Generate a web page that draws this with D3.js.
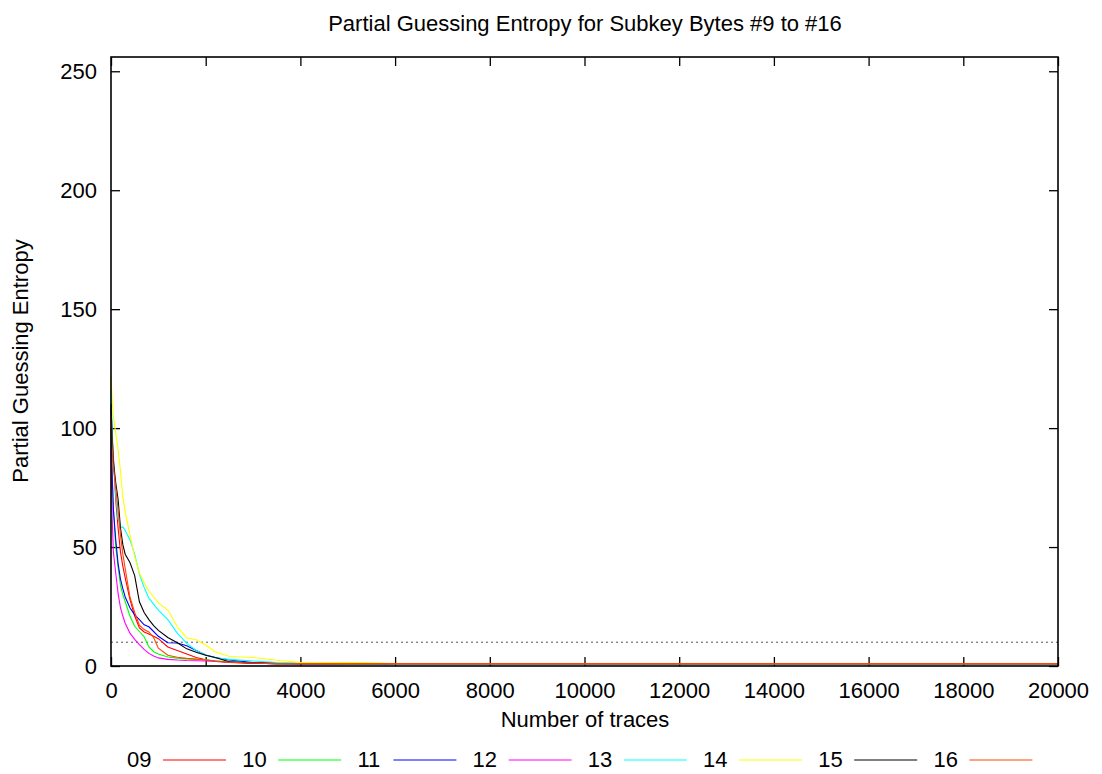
<!DOCTYPE html>
<html>
<head>
<meta charset="utf-8">
<script src="https://cdn.jsdelivr.net/npm/d3@7"></script>
<style>
  body { margin: 0; background: #fff; }
  text { font-family: "Liberation Sans", Arial, Helvetica, sans-serif; fill: #000; }
</style>
</head>
<body>
<svg id="chart" width="1102" height="774"></svg>
<script>
// number of traces (shared x grid)
const traces = [0, 25, 50, 100, 150, 200, 250, 300, 400, 500, 600, 700, 800, 900, 1000,
  1200, 1400, 1600, 1800, 2000, 2200, 2500, 3000, 3500, 4000, 5000, 5500, 6000, 20000];

const byte09 = [108, 96, 88, 70, 58, 48, 42, 37, 28, 21, 16, 14.3, 13.4, 12.5, 11.5, 8, 6.5, 5, 3.6, 2.6, 2, 1.5, 1.2, 1, 1, 1, 1, 1, 1];
const byte10 = [98, 80, 66, 50, 41.5, 34, 30, 27, 21, 16.7, 14.5, 12.3, 8, 6, 5, 3.8, 3.3, 3, 2.8, 2.6, 2.2, 1.8, 1.3, 1.1, 1, 1, 1, 1, 1];
const byte11 = [100, 80, 66, 53, 43, 36.5, 32.5, 29, 24.5, 21.5, 19.5, 17.3, 16.5, 14.5, 12.5, 9.8, 9.7, 8.5, 6.5, 4.6, 3.6, 2.5, 1.5, 1.1, 1, 1, 1, 1, 1];
const byte12 = [92, 62, 48, 39, 30.5, 24.5, 21, 18, 13.8, 11.2, 9, 7, 5.3, 4.2, 3.4, 2.8, 2.5, 2.3, 2.2, 2.1, 1.9, 1.6, 1.2, 1, 1, 1, 1, 1, 1];
const byte13 = [116, 100, 88, 72, 62, 58, 58.5, 57, 53, 47, 38.5, 33, 28.5, 26, 23.5, 19.5, 13.8, 9.5, 6.5, 4.6, 3.5, 2.8, 2.1, 1.5, 1.2, 1, 1, 1, 1];
const byte14 = [122, 112, 105, 98, 91, 82, 71, 65, 55, 46, 39, 35, 31.5, 29, 26.5, 23.5, 16.5, 11.8, 11, 8.8, 6, 4, 3.6, 2.4, 1.6, 1.5, 1.3, 1, 1];
const byte15 = [110, 96, 86, 77, 70, 58, 51, 47, 43.5, 38, 27, 22.5, 19.5, 17, 15, 12, 9.8, 7.2, 5.8, 4.5, 3.6, 1.8, 1.2, 1, 1, 1, 1, 1, 1];
const byte16 = [105, 92, 84, 75, 66, 55, 47, 41, 29, 22.5, 17.2, 15.3, 14.3, 12, 7.5, 4.5, 3.7, 3.2, 2.9, 2.5, 2.1, 1.6, 1.2, 1, 1, 1, 1, 1, 1];

const names = ["09", "10", "11", "12", "13", "14", "15", "16"];
const colors = ["#ff0000", "#00ff00", "#0000ff", "#ff00ff", "#00ffff", "#ffff00", "#000000", "#ff4500"];
const xTicks = [0, 2000, 4000, 6000, 8000, 10000, 12000, 14000, 16000, 18000, 20000];
const yTicks = [0, 50, 100, 150, 200, 250];
const threshold = 10;

const seriesValues = [byte09, byte10, byte11, byte12, byte13, byte14, byte15, byte16];

const svg = d3.select("#chart");
const plotL = 111, plotR = 1058, plotT = 57, plotB = 666;
const fs = "22px";

const x = d3.scaleLinear().domain([0, 20000]).range([plotL, plotR]);
const y = d3.scaleLinear().domain([0, 256]).range([plotB, plotT]);

// title
svg.append("text")
  .attr("x", 585).attr("y", 31)
  .attr("text-anchor", "middle")
  .style("font-size", fs)
  .text("Partial Guessing Entropy for Subkey Bytes #9 to #16");

// ticks (inward, mirrored) + labels
const gx = svg.append("g").attr("transform", "translate(0," + plotB + ")")
  .call(d3.axisBottom(x).tickValues(xTicks).tickFormat(d3.format("d"))
    .tickSizeInner(-9).tickSizeOuter(0).tickPadding(16));
gx.select(".domain").remove();
gx.selectAll("text").style("font-size", fs).attr("font-family", null);
gx.selectAll("line").attr("stroke-width", 1.3);

const gxTop = svg.append("g").attr("transform", "translate(0," + plotT + ")")
  .call(d3.axisTop(x).tickValues(xTicks).tickSizeInner(-9).tickSizeOuter(0).tickFormat(""));
gxTop.select(".domain").remove();
gxTop.selectAll("line").attr("stroke-width", 1.3);

const gy = svg.append("g").attr("transform", "translate(" + plotL + ",0)")
  .call(d3.axisLeft(y).tickValues(yTicks).tickFormat(d3.format("d"))
    .tickSizeInner(-9).tickSizeOuter(0).tickPadding(14));
gy.select(".domain").remove();
gy.selectAll("text").style("font-size", fs).attr("font-family", null);
gy.selectAll("line").attr("stroke-width", 1.3);

const gyRight = svg.append("g").attr("transform", "translate(" + plotR + ",0)")
  .call(d3.axisRight(y).tickValues(yTicks).tickSizeInner(-9).tickSizeOuter(0).tickFormat(""));
gyRight.select(".domain").remove();
gyRight.selectAll("line").attr("stroke-width", 1.3);

// threshold line
svg.append("line")
  .attr("x1", plotL).attr("x2", plotR)
  .attr("y1", y(threshold)).attr("y2", y(threshold))
  .attr("stroke", "#555").attr("stroke-width", 1)
  .attr("stroke-dasharray", "2,3");

// curves
const line = d3.line()
  .x(function(d) { return x(d[0]); })
  .y(function(d) { return y(d[1]); });

seriesValues.forEach(function(vals, i) {
  const pts = traces.map(function(t, j) { return [t, vals[j]]; });
  svg.append("path")
    .datum(pts)
    .attr("fill", "none")
    .attr("stroke", colors[i])
    .attr("stroke-width", 1.1)
    .attr("d", line);
});

// frame
svg.append("rect")
  .attr("x", plotL).attr("y", plotT)
  .attr("width", plotR - plotL).attr("height", plotB - plotT)
  .attr("fill", "none").attr("stroke", "#000").attr("stroke-width", 1.6);

// axis titles
svg.append("text")
  .attr("x", 585).attr("y", 727)
  .attr("text-anchor", "middle")
  .style("font-size", fs)
  .text("Number of traces");

svg.append("text")
  .attr("transform", "translate(28,361) rotate(-90)")
  .attr("text-anchor", "middle")
  .style("font-size", fs)
  .text("Partial Guessing Entropy");

// legend
const legend = svg.append("g");
names.forEach(function(n, i) {
  const lx = 127 + i * 115.2;
  legend.append("text")
    .attr("x", lx).attr("y", 767)
    .style("font-size", fs)
    .text(n);
  legend.append("line")
    .attr("x1", lx + 36).attr("x2", lx + 99)
    .attr("y1", 760).attr("y2", 760)
    .attr("stroke", colors[i]).attr("stroke-width", 1.1);
});
</script>
</body>
</html>
